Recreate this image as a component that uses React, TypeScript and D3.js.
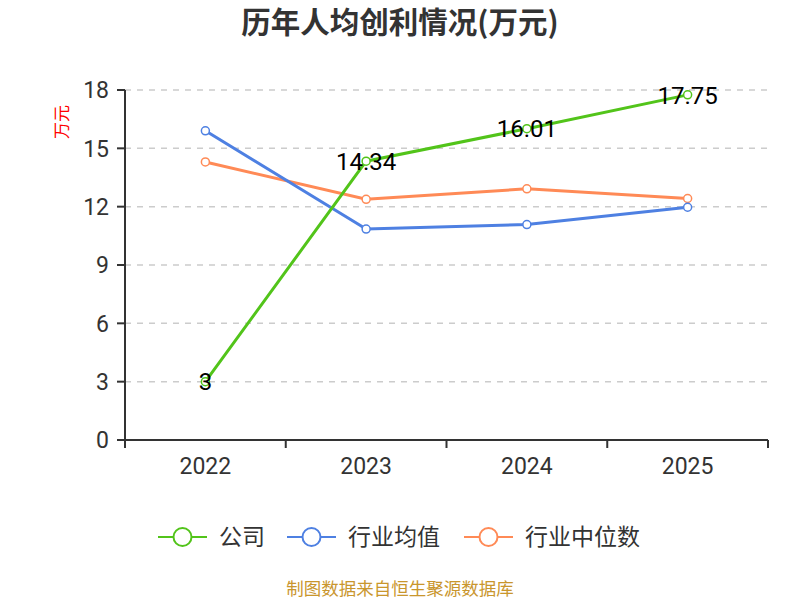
import React from "react";
import * as d3 from "d3";

const years = ["2022", "2023", "2024", "2025"];
const company = [3, 14.34, 16.01, 17.75];
const industryAvg = [15.9, 10.85, 11.08, 11.97];
const industryMedian = [14.3, 12.38, 12.92, 12.42];
const yTicks = [0, 3, 6, 9, 12, 15, 18];
const seriesNames = ["公司", "行业均值", "行业中位数"];
const colors = ["#52c41a", "#4e80e2", "#ff8a56"];

const W = 800, H = 600;
const left = 125, right = 768, top = 90, bottom = 440;
const FONT = "Roboto, 'Noto Sans CJK SC', sans-serif";

export default function App() {
  const x = d3.scaleBand<string>().domain(years).range([left, right]);
  const y = d3.scaleLinear().domain([0, 18]).range([bottom, top]);
  const line = d3.line<number>()
    .x((_, i) => (x(years[i]) as number) + x.bandwidth() / 2)
    .y((d) => y(d));
  const series = [company, industryAvg, industryMedian];
  const legendX = [158, 287, 464];

  return (
    <svg width={W} height={H} style={{ display: "block", position: "absolute", left: 0, top: 0 }} fontFamily={FONT}>
      <rect width={W} height={H} fill="#fff" />
      <text x={400} y={23} dy="0.35em" textAnchor="middle" fontSize={29.5} fontWeight="bold" fill="#333" fontFamily="'Noto Sans CJK SC', sans-serif">历年人均创利情况(万元)</text>
      {yTicks.map((t) => (
        <g key={t}>
          {t > 0 && (
            <line x1={left} x2={right} y1={y(t)} y2={y(t)} stroke="#ccc" strokeDasharray="6,6" strokeWidth={1.5} />
          )}
          <line x1={left - 8} x2={left} y1={y(t)} y2={y(t)} stroke="#333" strokeWidth={2} />
          <text x={left - 16} y={y(t)} dy="0.36em" textAnchor="end" fontSize={23} fill="#333">{t}</text>
        </g>
      ))}
      <text transform={`translate(68,122) rotate(-90)`} textAnchor="middle" fontSize={17} fill="#ff0000">万元</text>
      <line x1={left} x2={left} y1={top} y2={bottom} stroke="#333" strokeWidth={2} />
      <line x1={left} x2={right} y1={bottom} y2={bottom} stroke="#333" strokeWidth={2} />
      {[...years.map((yr) => x(yr) as number), right].map((p, i) => (
        <line key={i} x1={p} x2={p} y1={bottom} y2={bottom + 8} stroke="#333" strokeWidth={2} />
      ))}
      {years.map((yr) => (
        <text key={yr} x={(x(yr) as number) + x.bandwidth() / 2} y={474} textAnchor="middle" fontSize={23} fill="#333">{yr}</text>
      ))}
      {[2, 1, 0].map((si) => (
        <g key={si}>
          <path d={line(series[si]) || ""} fill="none" stroke={colors[si]} strokeWidth={3} />
          {series[si].map((v, i) => (
            <circle key={i} cx={(x(years[i]) as number) + x.bandwidth() / 2} cy={y(v)} r={4} fill="#fff" stroke={colors[si]} strokeWidth={1.5} />
          ))}
        </g>
      ))}
      {company.map((v, i) => (
        <text key={i} x={(x(years[i]) as number) + x.bandwidth() / 2} y={y(v)} dy="0.36em" textAnchor="middle" fontSize={24} fill="#000">{v}</text>
      ))}
      {seriesNames.map((n, i) => (
        <g key={n}>
          <line x1={legendX[i]} x2={legendX[i] + 49} y1={537} y2={537} stroke={colors[i]} strokeWidth={2} />
          <circle cx={legendX[i] + 24.5} cy={537} r={9} fill="#fff" stroke={colors[i]} strokeWidth={2} />
          <text x={legendX[i] + 61} y={537} dy="0.36em" fontSize={23} fill="#333">{n}</text>
        </g>
      ))}
      <text x={400} y={589} dy="0.36em" textAnchor="middle" fontSize={17.5} fill="#c9962d">制图数据来自恒生聚源数据库</text>
    </svg>
  );
}
